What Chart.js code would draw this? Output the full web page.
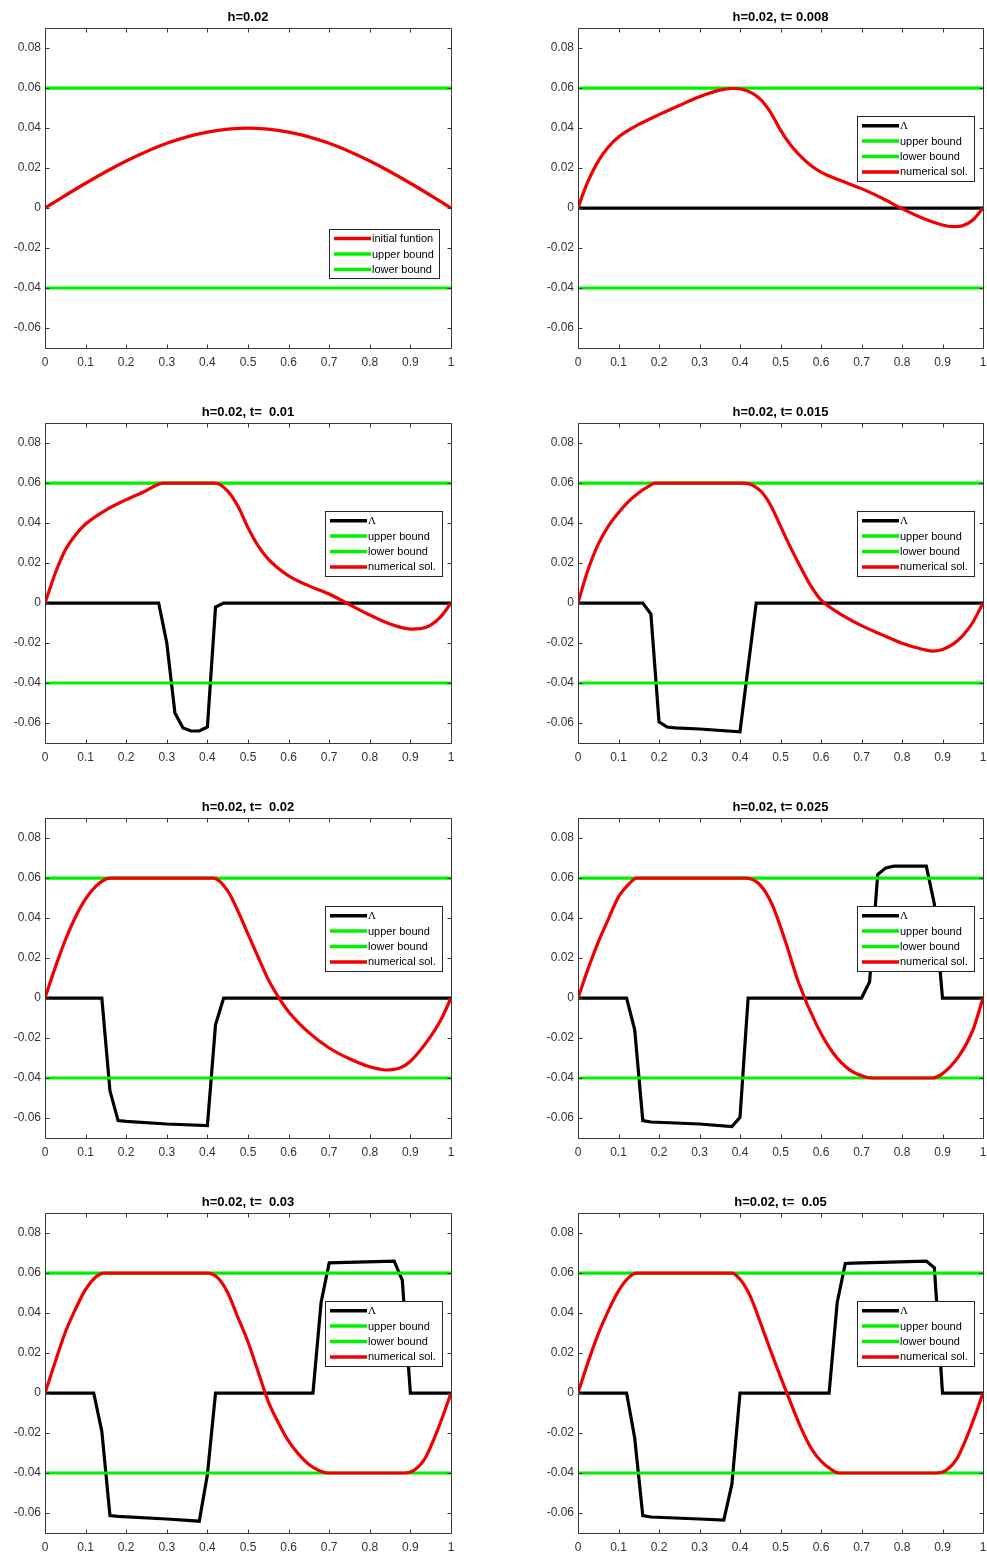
<!DOCTYPE html>
<html>
<head>
<meta charset="utf-8">
<script src="https://cdn.jsdelivr.net/npm/chart.js@4.4.1/dist/chart.umd.min.js"></script>
<style>
  html, body { margin: 0; padding: 0; background: #fff; }
  #figure { position: relative; width: 987px; height: 1555px; overflow: hidden; }
  #figure canvas { position: absolute; }
</style>
</head>
<body>
<div id="figure"></div>
<script>
// --- axes ---
const xTickValues = [0, 0.1, 0.2, 0.3, 0.4, 0.5, 0.6, 0.7, 0.8, 0.9, 1];
const xTickLabels = ['0', '0.1', '0.2', '0.3', '0.4', '0.5', '0.6', '0.7', '0.8', '0.9', '1'];
const yTickValues = [-0.06, -0.04, -0.02, 0, 0.02, 0.04, 0.06, 0.08];
const yTickLabels = ['-0.06', '-0.04', '-0.02', '0', '0.02', '0.04', '0.06', '0.08'];

// --- bounds (same on every panel) ---
const boundX = [0, 1];
const upperBound = [0.06, 0.06];
const lowerBound = [-0.04, -0.04];

// --- panel 1: initial function ---
const initX = [0, 0.1, 0.2, 0.3, 0.4, 0.5, 0.6, 0.7, 0.8, 0.9, 1];
const initY = [0, 0.0124, 0.0235, 0.0324, 0.038, 0.04, 0.038, 0.0324, 0.0235, 0.0124, 0];

// --- t = 0.008 ---
const solX008 = [0, 0.0125, 0.025, 0.05, 0.075, 0.1, 0.15, 0.2, 0.25, 0.3, 0.35, 0.38, 0.41, 0.45, 0.475, 0.5, 0.525, 0.55, 0.575, 0.6, 0.65, 0.7, 0.75, 0.8, 0.85, 0.9, 0.925, 0.95, 0.975, 1];
const solY008 = [0, 0.0072, 0.0135, 0.0235, 0.0305, 0.0355, 0.0418, 0.0467, 0.0513, 0.0557, 0.059, 0.0598, 0.0592, 0.0545, 0.048, 0.039, 0.0315, 0.0258, 0.0213, 0.018, 0.0136, 0.0097, 0.005, -0.0003, -0.005, -0.0085, -0.0093, -0.0088, -0.006, 0];
const lamX008 = [0, 1];
const lamY008 = [0, 0];

// --- t = 0.01 ---
const solX01 = [0, 0.0125, 0.025, 0.05, 0.075, 0.1, 0.15, 0.2, 0.25, 0.27, 0.29, 0.42, 0.45, 0.475, 0.5, 0.525, 0.55, 0.6, 0.65, 0.7, 0.75, 0.8, 0.85, 0.9, 0.925, 0.95, 0.975, 1];
const solY01 = [0, 0.0075, 0.0148, 0.0265, 0.034, 0.0395, 0.0465, 0.0517, 0.0563, 0.0585, 0.06, 0.06, 0.056, 0.0485, 0.0377, 0.0286, 0.022, 0.0136, 0.0086, 0.0045, -0.0008, -0.006, -0.0105, -0.013, -0.0128, -0.011, -0.0068, 0];
const lamX01 = [0, 0.28, 0.30, 0.32, 0.34, 0.36, 0.38, 0.40, 0.42, 0.44, 1];
const lamY01 = [0, 0, -0.02, -0.055, -0.0625, -0.064, -0.064, -0.062, -0.002, 0, 0];

// --- t = 0.015 ---
const solX015 = [0, 0.0125, 0.025, 0.05, 0.075, 0.1, 0.125, 0.15, 0.175, 0.19, 0.41, 0.45, 0.475, 0.5, 0.525, 0.55, 0.575, 0.6, 0.625, 0.65, 0.7, 0.75, 0.8, 0.85, 0.875, 0.9, 0.925, 0.95, 0.975, 1];
const solY015 = [0, 0.0088, 0.0168, 0.0295, 0.0385, 0.0452, 0.0508, 0.0552, 0.0585, 0.06, 0.06, 0.0562, 0.0492, 0.0385, 0.0277, 0.0178, 0.0086, 0.0015, -0.0025, -0.0058, -0.0113, -0.0158, -0.0201, -0.0231, -0.024, -0.0232, -0.0207, -0.0163, -0.0096, 0];
const lamX015 = [0, 0.16, 0.18, 0.20, 0.22, 0.24, 0.30, 0.40, 0.42, 0.44, 1];
const lamY015 = [0, 0, -0.0055, -0.0594, -0.062, -0.0624, -0.063, -0.0644, -0.032, 0, 0];

// --- t = 0.02 ---
const solX02 = [0, 0.025, 0.05, 0.075, 0.1, 0.125, 0.15, 0.165, 0.415, 0.45, 0.475, 0.5, 0.525, 0.55, 0.575, 0.6, 0.65, 0.7, 0.75, 0.8, 0.84, 0.875, 0.9, 0.95, 0.975, 1];
const solY02 = [0, 0.0152, 0.029, 0.0405, 0.0496, 0.0558, 0.0595, 0.06, 0.06, 0.0536, 0.0436, 0.032, 0.0205, 0.0092, 0.0005, -0.0068, -0.0173, -0.025, -0.0304, -0.0344, -0.036, -0.0349, -0.0316, -0.0192, -0.0109, 0];
const lamX02 = [0, 0.14, 0.16, 0.18, 0.20, 0.30, 0.40, 0.42, 0.44, 1];
const lamY02 = [0, 0, -0.0464, -0.0613, -0.0617, -0.063, -0.0638, -0.0134, 0, 0];

// --- t = 0.025 ---
const solX025 = [0, 0.025, 0.05, 0.075, 0.1, 0.125, 0.145, 0.415, 0.45, 0.48, 0.515, 0.545, 0.59, 0.63, 0.67, 0.71, 0.73, 0.875, 0.9, 0.94, 0.975, 1];
const solY025 = [0, 0.0147, 0.028, 0.0395, 0.0506, 0.0569, 0.06, 0.06, 0.0565, 0.0465, 0.0265, 0.0075, -0.0138, -0.0275, -0.0358, -0.0395, -0.04, -0.04, -0.0378, -0.0292, -0.016, 0];
const lamX025 = [0, 0.12, 0.14, 0.16, 0.18, 0.30, 0.38, 0.40, 0.42, 0.70, 0.72, 0.74, 0.76, 0.78, 0.86, 0.88, 0.90, 1];
const lamY025 = [0, 0, -0.0159, -0.0613, -0.062, -0.063, -0.0643, -0.0597, 0, 0, 0.0081, 0.0618, 0.0651, 0.066, 0.066, 0.0469, 0, 0];

// --- t = 0.03 ---
const solX03 = [0, 0.025, 0.05, 0.075, 0.1, 0.125, 0.145, 0.40, 0.425, 0.45, 0.475, 0.5, 0.525, 0.55, 0.575, 0.6, 0.625, 0.65, 0.675, 0.695, 0.885, 0.91, 0.935, 0.96, 0.98, 1];
const solY03 = [0, 0.0155, 0.0304, 0.042, 0.0519, 0.058, 0.06, 0.06, 0.0577, 0.0502, 0.0379, 0.0255, 0.0106, -0.0043, -0.015, -0.0241, -0.0307, -0.0357, -0.0387, -0.04, -0.04, -0.0385, -0.033, -0.022, -0.0115, 0];
const lamX03 = [0, 0.12, 0.14, 0.16, 0.18, 0.30, 0.38, 0.40, 0.42, 0.66, 0.68, 0.70, 0.72, 0.86, 0.88, 0.90, 1];
const lamY03 = [0, 0, -0.0192, -0.0613, -0.0617, -0.063, -0.0641, -0.0407, 0, 0, 0.0453, 0.0651, 0.0652, 0.066, 0.0565, 0, 0];

// --- t = 0.05 ---
const solX05 = [0, 0.025, 0.05, 0.075, 0.1, 0.125, 0.145, 0.38, 0.4, 0.425, 0.45, 0.475, 0.5, 0.525, 0.55, 0.575, 0.6, 0.625, 0.645, 0.885, 0.91, 0.935, 0.96, 0.98, 1];
const solY05 = [0, 0.0155, 0.0296, 0.0412, 0.0511, 0.0577, 0.06, 0.06, 0.0569, 0.0486, 0.0354, 0.0215, 0.0081, -0.0048, -0.0172, -0.0274, -0.034, -0.0382, -0.04, -0.04, -0.0385, -0.033, -0.022, -0.0115, 0];
const lamX05 = [0, 0.12, 0.14, 0.16, 0.18, 0.30, 0.36, 0.38, 0.40, 0.62, 0.64, 0.66, 0.68, 0.86, 0.88, 0.90, 1];
const lamY05 = [0, 0, -0.0225, -0.0613, -0.062, -0.063, -0.0635, -0.0456, 0, 0, 0.0453, 0.0648, 0.065, 0.066, 0.0626, 0, 0];

const titles = ['h=0.02', 'h=0.02, t= 0.008', 'h=0.02, t=  0.01', 'h=0.02, t= 0.015',
                'h=0.02, t=  0.02', 'h=0.02, t= 0.025', 'h=0.02, t=  0.03', 'h=0.02, t=  0.05'];
const initLegend = ['initial funtion', 'upper bound', 'lower bound'];
const solLegend = ['\u039B', 'upper bound', 'lower bound', 'numerical sol.'];

const RED = '#f00000';
const GREEN = '#00f000';
const BLACK = '#000000';
const TICK = 4;
const FONT = '"Liberation Sans", Arial, Helvetica, sans-serif';

// --- Segédfüggvények ---

function line(xs, ys, color, smooth, order) {
    return {
        data: xs.map((x, i) => ({ x: x, y: ys[i] })),
        borderColor: color,
        borderWidth: 3.2,
        pointRadius: 0,
        fill: false,
        tension: 0,
        cubicInterpolationMode: smooth ? 'monotone' : 'default',
        order: order
    };
}

// matlab-like box with inward ticks on all four sides
const axesBox = {
    id: 'axesBox',
    afterDatasetsDraw(chart) {
        const { ctx, chartArea: a, scales } = chart;
        const l = Math.round(a.left) + 0.5, r = Math.round(a.right) + 0.5;
        const t = Math.round(a.top) + 0.5, b = Math.round(a.bottom) + 0.5;
        ctx.save();
        ctx.strokeStyle = '#3a3a3a';
        ctx.lineWidth = 1;
        ctx.beginPath();
        ctx.rect(l, t, r - l, b - t);
        scales.x.ticks.forEach(tk => {
            const px = Math.round(scales.x.getPixelForValue(tk.value)) + 0.5;
            ctx.moveTo(px, b); ctx.lineTo(px, b - TICK);
            ctx.moveTo(px, t); ctx.lineTo(px, t + TICK);
        });
        scales.y.ticks.forEach(tk => {
            const py = Math.round(scales.y.getPixelForValue(tk.value)) + 0.5;
            ctx.moveTo(l, py); ctx.lineTo(l + TICK, py);
            ctx.moveTo(r, py); ctx.lineTo(r - TICK, py);
        });
        ctx.stroke();
        ctx.restore();
    }
};

function legendPlugin(labels, colors, box) {
    return {
        id: 'boxLegend',
        afterDraw(chart) {
            const { ctx, chartArea: a } = chart;
            const x = Math.round(a.right - box.right - box.width);
            const y = Math.round(a.top + box.top);
            ctx.save();
            ctx.fillStyle = '#fff';
            ctx.fillRect(x, y, box.width, box.height);
            ctx.strokeStyle = '#262626';
            ctx.lineWidth = 1;
            ctx.strokeRect(x + 0.5, y + 0.5, box.width, box.height);
            labels.forEach((lbl, i) => {
                const ry = y + box.first + i * box.gap;
                ctx.strokeStyle = colors[i];
                ctx.lineWidth = 3.5;
                ctx.beginPath();
                ctx.moveTo(x + 5, ry);
                ctx.lineTo(x + 42, ry);
                ctx.stroke();
                ctx.fillStyle = '#000';
                ctx.textAlign = 'left';
                ctx.textBaseline = 'middle';
                ctx.font = lbl === '\u039B' ? '11px "Liberation Serif", "DejaVu Serif", serif' : '11px ' + FONT;
                ctx.fillText(lbl, x + 43, ry + 0.5);
            });
            ctx.restore();
        }
    };
}

// --- panels ---
const rowTops = [0, 395, 790, 1185];
const colLefts = [0, 533];
const colWidths = [470, 454];
const colPadRight = [19, 4];

const panels = [
    { datasets: [line(initX, initY, RED, true, 3), line(boundX, upperBound, GREEN, false, 2), line(boundX, lowerBound, GREEN, false, 1)],
      legend: initLegend, colors: [RED, GREEN, GREEN],
      box: { right: 12, top: 200.5, width: 110, height: 49, first: 9.5, gap: 15.5 } },
    { sol: [solX008, solY008], lam: [lamX008, lamY008] },
    { sol: [solX01, solY01], lam: [lamX01, lamY01] },
    { sol: [solX015, solY015], lam: [lamX015, lamY015] },
    { sol: [solX02, solY02], lam: [lamX02, lamY02] },
    { sol: [solX025, solY025], lam: [lamX025, lamY025] },
    { sol: [solX03, solY03], lam: [lamX03, lamY03] },
    { sol: [solX05, solY05], lam: [lamX05, lamY05] }
];

const figure = document.getElementById('figure');

panels.forEach((p, idx) => {
    const row = Math.floor(idx / 2), col = idx % 2;
    const canvas = document.createElement('canvas');
    canvas.width = colWidths[col];
    canvas.height = 372;
    canvas.style.left = colLefts[col] + 'px';
    canvas.style.top = rowTops[row] + 'px';
    figure.appendChild(canvas);

    let datasets = p.datasets, legend = p.legend, colors = p.colors, box = p.box;
    if (!datasets) {
        datasets = [
            line(p.lam[0], p.lam[1], BLACK, false, 4),
            line(boundX, upperBound, GREEN, false, 3),
            line(boundX, lowerBound, GREEN, false, 2),
            line(p.sol[0], p.sol[1], RED, true, 1)
        ];
        legend = solLegend;
        colors = [BLACK, GREEN, GREEN, RED];
        box = { right: 9.5, top: 88, width: 117, height: 65, first: 9.7, gap: 15.4 };
    }

    new Chart(canvas, {
        type: 'line',
        data: { datasets: datasets },
        options: {
            responsive: false,
            animation: false,
            devicePixelRatio: 1,
            layout: { padding: { left: 0, right: colPadRight[col], top: 0, bottom: 0 } },
            plugins: {
                legend: { display: false },
                tooltip: { enabled: false },
                title: {
                    display: true,
                    text: titles[idx],
                    fullSize: false,
                    color: '#000',
                    font: { family: FONT, size: 13, weight: 'bold' },
                    padding: { top: 9.5, bottom: 3 }
                }
            },
            scales: {
                x: {
                    type: 'linear', min: 0, max: 1,
                    grid: { display: false, drawTicks: false },
                    border: { display: false },
                    afterBuildTicks: s => { s.ticks = xTickValues.map(v => ({ value: v })); },
                    afterFit: s => { s.height = 24; s.paddingLeft = 0; s.paddingRight = 0; },
                    ticks: { autoSkip: false, maxRotation: 0, padding: 7, color: '#333', font: { family: FONT, size: 12 },
                             callback: (v, i) => xTickLabels[i] }
                },
                y: {
                    type: 'linear', min: -0.07, max: 0.09,
                    grid: { display: false, drawTicks: false },
                    border: { display: false },
                    afterBuildTicks: s => { s.ticks = yTickValues.map(v => ({ value: v })); },
                    afterFit: s => { s.width = 45; },
                    ticks: { autoSkip: false, padding: 4, color: '#333', font: { family: FONT, size: 12 },
                             callback: (v, i) => yTickLabels[i] }
                }
            }
        },
        plugins: [axesBox, legendPlugin(legend, colors, box)]
    });
});
</script>
</body>
</html>
